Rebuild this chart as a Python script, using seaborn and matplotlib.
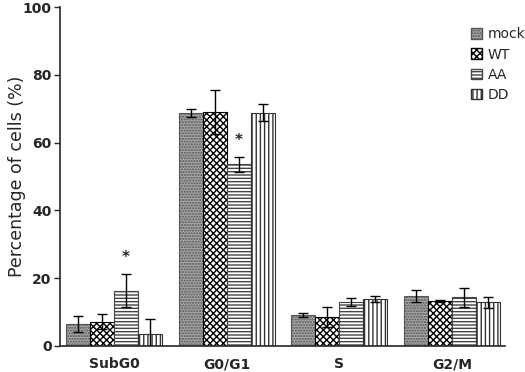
import numpy as np
import pandas as pd
import matplotlib
matplotlib.use("Agg")
import matplotlib.pyplot as plt
import seaborn as sns
from matplotlib.patches import Patch

# Cell cycle phases and treatment groups
PHASES = ["SubG0", "G0/G1", "S", "G2/M"]
GROUPS = ["mock", "WT", "AA", "DD"]

# mean percentages per group, in PHASES order
MOCK = [6.4, 68.7, 9.1, 14.8]
WT = [7.2, 69.0, 8.6, 13.4]
AA = [16.3, 53.6, 12.9, 14.4]
DD = [3.5, 68.8, 13.8, 12.9]

# error bar half-lengths
MOCK_ERR = [2.4, 1.2, 0.7, 1.7]
WT_ERR = [2.1, 6.5, 3.0, 0.3]
AA_ERR = [4.9, 2.2, 1.2, 2.8]
DD_ERR = [4.4, 2.5, 0.8, 1.6]

# significance stars (phase, group, y position)
STARS = [("SubG0", "AA", 26.0), ("G0/G1", "AA", 60.5)]

values = {"mock": MOCK, "WT": WT, "AA": AA, "DD": DD}
errors = {"mock": MOCK_ERR, "WT": WT_ERR, "AA": AA_ERR, "DD": DD_ERR}

rows = []
for g in GROUPS:
    for i, p in enumerate(PHASES):
        rows.append({"Phase": p, "Group": g, "Value": values[g][i], "Err": errors[g][i]})
df = pd.DataFrame(rows)

sns.set_style("ticks")
plt.rcParams["font.family"] = ["DejaVu Sans"]
plt.rcParams["hatch.linewidth"] = 1.0

styles = {
    "mock": dict(facecolor="#a6a6a6", hatch="......", edgecolor="#555555"),
    "WT": dict(facecolor="white", hatch="xxxxx", edgecolor="black"),
    "AA": dict(facecolor="white", hatch="-----", edgecolor="#444444"),
    "DD": dict(facecolor="white", hatch="||||", edgecolor="#333333"),
}

fig = plt.figure(figsize=(5.25, 3.72), dpi=100)
ax = fig.add_axes([0.114, 0.07, 0.848, 0.911])

sns.barplot(data=df, x="Phase", y="Value", hue="Group", order=PHASES,
            hue_order=GROUPS, errorbar=None, width=0.85, dodge=True,
            ax=ax, legend=False)

for g, cont in zip(GROUPS, ax.containers):
    st = styles[g]
    for bar in cont:
        bar.set_facecolor(st["facecolor"])
        bar.set_hatch(st["hatch"])
        bar.set_edgecolor(st["edgecolor"])
        bar.set_linewidth(0.8)
    xs = [b.get_x() + b.get_width() / 2 for b in cont]
    ax.errorbar(xs, values[g], yerr=errors[g], fmt="none", ecolor="black",
                elinewidth=1.0, capsize=3.6, capthick=1.0, zorder=5)

for phase, g, y in STARS:
    cont = ax.containers[GROUPS.index(g)]
    b = cont[PHASES.index(phase)]
    ax.text(b.get_x() + b.get_width() / 2, y, "*", ha="center", va="center",
            fontsize=11, fontweight="bold")

ax.set_ylim(0, 100)
ax.set_xlim(-0.48, 3.47)
ax.set_yticks([0, 20, 40, 60, 80, 100])
ax.set_xlabel("")
ax.set_ylabel("Percentage of cells (%)", fontsize=12.5)
ax.yaxis.set_label_coords(-0.076, 0.5)
ax.tick_params(axis="both", labelsize=10, length=4, width=1)
ax.tick_params(axis="y", pad=2)
for lbl in ax.get_xticklabels() + ax.get_yticklabels():
    lbl.set_fontweight("bold")
ax.tick_params(axis="x", length=0, pad=8)
sns.despine(ax=ax)
for s in ["left", "bottom"]:
    ax.spines[s].set_linewidth(1.2)

handles = [Patch(label=g, **styles[g]) for g in GROUPS]
ax.legend(handles=handles, loc="upper right", bbox_to_anchor=(1.065, 0.965),
          frameon=False, fontsize=10, handlelength=0.8, handleheight=0.8,
          handletextpad=0.4, labelspacing=0.45, borderaxespad=0.2)

fig.savefig("out.png", dpi=100)
